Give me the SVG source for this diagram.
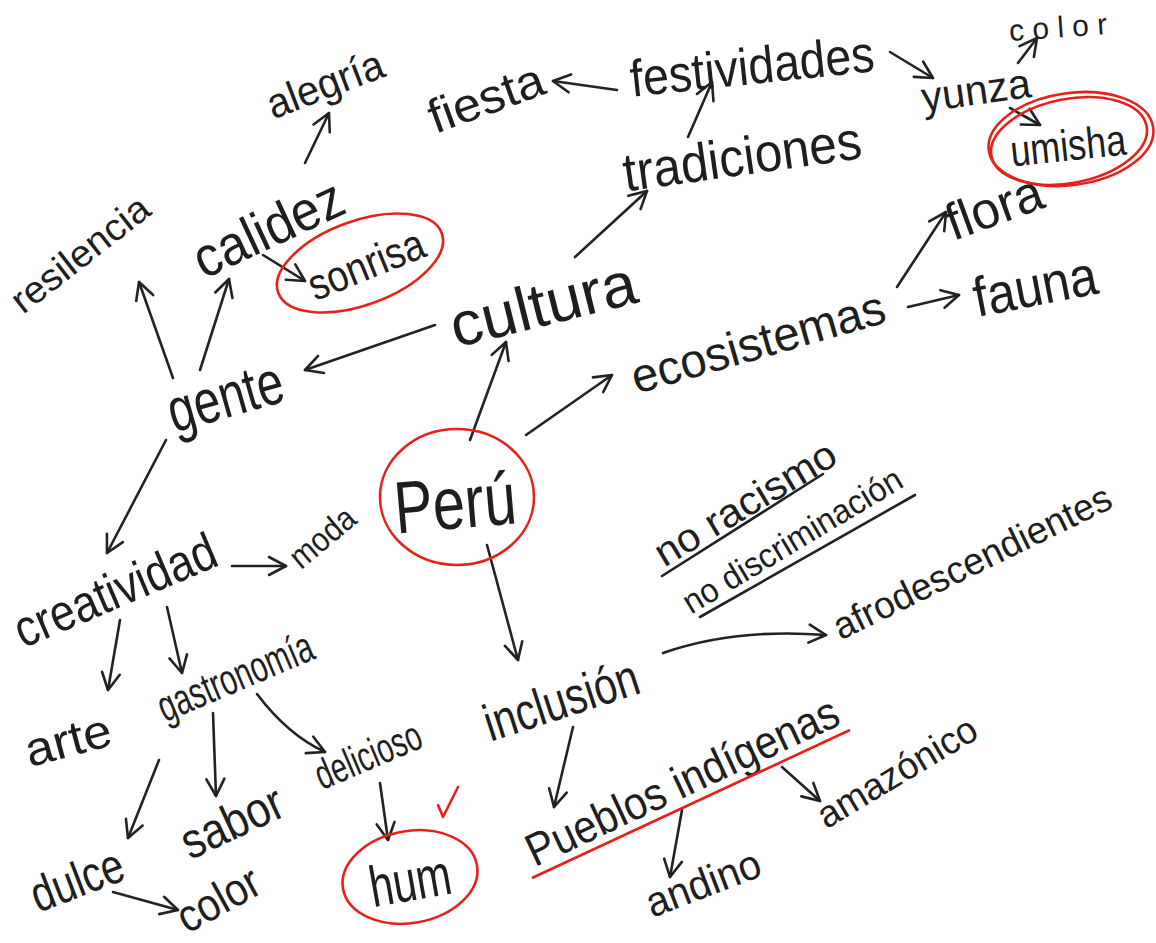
<svg xmlns="http://www.w3.org/2000/svg" width="1156" height="943" viewBox="0 0 1156 943">
<defs>
<style>
text{font-family:"Liberation Sans",Arial,sans-serif;fill:#1e1e1e;text-anchor:middle;dominant-baseline:central}
.c{fill:none;stroke:#222;stroke-width:2.6;stroke-linecap:round;stroke-linejoin:round}
.r{fill:none;stroke:#e8201c;stroke-width:2.6}
</style>
<marker id="ah" viewBox="0 0 22 22" refX="20" refY="11" markerWidth="22" markerHeight="22" markerUnits="userSpaceOnUse" orient="auto">
<path d="M3,2 L20,11 L3,20" fill="none" stroke="#222" stroke-width="2.6" stroke-linecap="round" stroke-linejoin="round"/>
</marker>
</defs>
<rect width="1156" height="943" fill="#fff"/>
<g id="connectors">
<path class="c" marker-end="url(#ah)" d="M305,163 L329,113"/>
<path class="c" marker-end="url(#ah)" d="M263,255 L305,281"/>
<path class="c" marker-end="url(#ah)" d="M173,378 L139,282"/>
<path class="c" marker-end="url(#ah)" d="M200,370 L229,279"/>
<path class="c" marker-end="url(#ah)" d="M435,325 L305,370"/>
<path class="c" marker-end="url(#ah)" d="M575,257 L647,191"/>
<path class="c" marker-end="url(#ah)" d="M688,137 L712,82"/>
<path class="c" marker-end="url(#ah)" d="M617,90 L553,81"/>
<path class="c" marker-end="url(#ah)" d="M890,52 L933,78"/>
<path class="c" marker-end="url(#ah)" d="M1018,63 L1037,38"/>
<path class="c" marker-end="url(#ah)" d="M1010,108 L1040,125"/>
<path class="c" marker-end="url(#ah)" d="M897,287 L946,212"/>
<path class="c" marker-end="url(#ah)" d="M908,307 L959,295"/>
<path class="c" marker-end="url(#ah)" d="M470,440 L506,342"/>
<path class="c" marker-end="url(#ah)" d="M526,435 L612,375"/>
<path class="c" marker-end="url(#ah)" d="M166,440 L107,553"/>
<path class="c" marker-end="url(#ah)" d="M232,566 L286,566"/>
<path class="c" marker-end="url(#ah)" d="M120,620 L108,690"/>
<path class="c" marker-end="url(#ah)" d="M167,607 L182,673"/>
<path class="c" marker-end="url(#ah)" d="M257,694 Q288,735 325,752"/>
<path class="c" marker-end="url(#ah)" d="M213,713 L216,796"/>
<path class="c" marker-end="url(#ah)" d="M159,760 L128,838"/>
<path class="c" marker-end="url(#ah)" d="M113,892 L178,910"/>
<path class="c" marker-end="url(#ah)" d="M380,783 L388,840"/>
<path class="c" marker-end="url(#ah)" d="M487,545 L518,660"/>
<path class="c" marker-end="url(#ah)" d="M663,653 Q735,628 826,635"/>
<path class="c" marker-end="url(#ah)" d="M573,727 L554,807"/>
<path class="c" marker-end="url(#ah)" d="M782,767 L820,801"/>
<path class="c" marker-end="url(#ah)" d="M682,810 L670,877"/>
</g>
<g id="alegria"><text font-size="42" textLength="122" lengthAdjust="spacingAndGlyphs" transform="translate(325,84) rotate(-21)">alegría</text></g>
<g id="resilencia"><text font-size="38" textLength="165" lengthAdjust="spacingAndGlyphs" transform="translate(80,254) rotate(-38)">resilencia</text></g>
<g id="calidez"><text font-size="56" textLength="160" lengthAdjust="spacingAndGlyphs" transform="translate(268,228) rotate(-25)">calidez</text></g>
<g id="sonrisa"><ellipse class="r" cx="360" cy="263" rx="87" ry="42" transform="rotate(-20 360 263)"/><text font-size="44" textLength="122" lengthAdjust="spacingAndGlyphs" transform="translate(366,264) rotate(-22)">sonrisa</text></g>
<g id="fiesta"><text font-size="48" textLength="120" lengthAdjust="spacingAndGlyphs" transform="translate(486,98) rotate(-20)">fiesta</text></g>
<g id="festividades"><text font-size="52" textLength="245" lengthAdjust="spacingAndGlyphs" transform="translate(752,66) rotate(-6)">festividades</text></g>
<g id="tradiciones"><text font-size="54" textLength="240" lengthAdjust="spacingAndGlyphs" transform="translate(742,156) rotate(-8)">tradiciones</text></g>
<g id="yunza"><text font-size="42" textLength="110" lengthAdjust="spacingAndGlyphs" transform="translate(976,90) rotate(-8)">yunza</text></g>
<g id="color-top"><text font-size="30" textLength="98" lengthAdjust="spacing" transform="translate(1058,27) rotate(-4)">color</text></g>
<g id="umisha"><ellipse class="r" cx="1071" cy="139" rx="83" ry="46" transform="rotate(-8 1071 139)"/><ellipse class="r" cx="1069" cy="141" rx="79" ry="42" transform="rotate(-11 1069 141)"/><text font-size="44" textLength="116" lengthAdjust="spacingAndGlyphs" transform="translate(1068,145) rotate(-6)">umisha</text></g>
<g id="flora"><text font-size="52" textLength="100" lengthAdjust="spacingAndGlyphs" transform="translate(994,207) rotate(-20)">flora</text></g>
<g id="fauna"><text font-size="56" textLength="125" lengthAdjust="spacingAndGlyphs" transform="translate(1035,286) rotate(-11)">fauna</text></g>
<g id="ecosistemas"><text font-size="48" textLength="262" lengthAdjust="spacingAndGlyphs" transform="translate(758,342) rotate(-16)">ecosistemas</text></g>
<g id="cultura"><text font-size="62" textLength="190" lengthAdjust="spacingAndGlyphs" transform="translate(543,304) rotate(-14)">cultura</text></g>
<g id="gente"><text font-size="62" textLength="118" lengthAdjust="spacingAndGlyphs" transform="translate(225,396) rotate(-16)">gente</text></g>
<g id="peru"><ellipse class="r" cx="457" cy="497" rx="77" ry="68"/><text font-size="74" textLength="122" lengthAdjust="spacingAndGlyphs" transform="translate(455,503) rotate(-5)">Perú</text></g>
<g id="creatividad"><text font-size="52" textLength="215" lengthAdjust="spacingAndGlyphs" transform="translate(115,590) rotate(-23)">creatividad</text></g>
<g id="moda"><text font-size="34" textLength="75" lengthAdjust="spacingAndGlyphs" transform="translate(322,537) rotate(-40)">moda</text></g>
<g id="arte"><text font-size="48" textLength="88" lengthAdjust="spacingAndGlyphs" transform="translate(68,740) rotate(-15)">arte</text></g>
<g id="gastronomia"><text font-size="44" textLength="165" lengthAdjust="spacingAndGlyphs" transform="translate(235,676) rotate(-23)">gastronomía</text></g>
<g id="delicioso"><text font-size="42" textLength="112" lengthAdjust="spacingAndGlyphs" transform="translate(368,755) rotate(-23)">delicioso</text></g>
<g id="sabor"><text font-size="50" textLength="108" lengthAdjust="spacingAndGlyphs" transform="translate(232,822) rotate(-25)">sabor</text></g>
<g id="dulce"><text font-size="50" textLength="96" lengthAdjust="spacingAndGlyphs" transform="translate(77,880) rotate(-21)">dulce</text></g>
<g id="color-bottom"><text font-size="46" textLength="88" lengthAdjust="spacingAndGlyphs" transform="translate(218,899) rotate(-29)">color</text></g>
<g id="hum"><ellipse class="r" cx="410" cy="877" rx="68" ry="46" transform="rotate(-10 410 877)"/><text font-size="58" textLength="82" lengthAdjust="spacingAndGlyphs" transform="translate(410,880) rotate(-10)">hum</text><path class="r" d="M438,805 L443,817 L458,787" stroke-linecap="round" stroke-linejoin="round"/></g>
<g id="no-racismo"><text font-size="40" textLength="205" lengthAdjust="spacingAndGlyphs" transform="translate(745,503) rotate(-31)">no racismo</text><path class="c" d="M662,576 L823,474"/></g>
<g id="no-discriminacion"><text font-size="34" textLength="250" lengthAdjust="spacingAndGlyphs" transform="translate(792,540) rotate(-31)">no discriminación</text><path class="c" d="M700,617 L915,495"/></g>
<g id="afrodescendientes"><text font-size="38" textLength="305" lengthAdjust="spacingAndGlyphs" transform="translate(972,562) rotate(-26)">afrodescendientes</text></g>
<g id="inclusion"><text font-size="52" textLength="160" lengthAdjust="spacingAndGlyphs" transform="translate(561,700) rotate(-18)">inclusión</text></g>
<g id="pueblos-indigenas"><text font-size="46" textLength="340" lengthAdjust="spacingAndGlyphs" transform="translate(682,781) rotate(-25)">Pueblos indígenas</text><path class="r" d="M532,878 L850,730"/></g>
<g id="amazonico"><text font-size="38" textLength="180" lengthAdjust="spacingAndGlyphs" transform="translate(897,772) rotate(-31)">amazónico</text></g>
<g id="andino"><text font-size="42" textLength="120" lengthAdjust="spacingAndGlyphs" transform="translate(703,883) rotate(-21)">andino</text></g>
</svg>
